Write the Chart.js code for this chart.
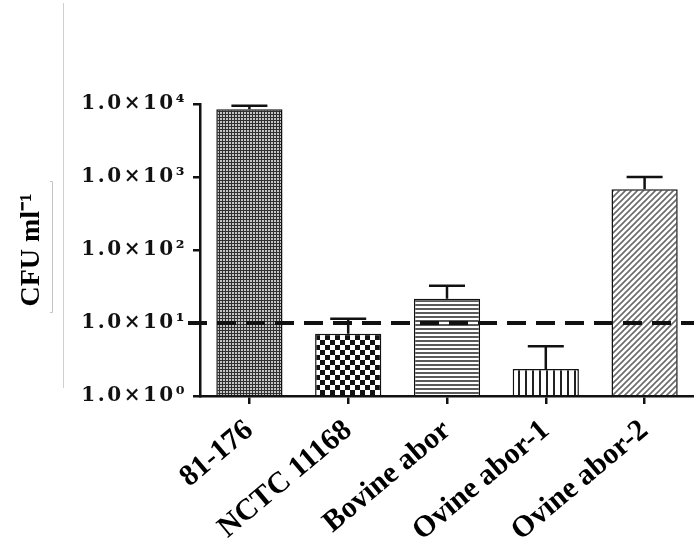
<!DOCTYPE html>
<html>
<head>
<meta charset="utf-8">
<script src="https://cdn.jsdelivr.net/npm/chart.js@4"></script>
<style>
  html, body { margin: 0; padding: 0; background: #ffffff; }
  canvas { display: block; }
</style>
</head>
<body>
<canvas id="c" width="694" height="554"></canvas>
<script>
// ---- data ----
const categories = ['81-176', 'NCTC 11168', 'Bovine abor', 'Ovine abor-1', 'Ovine abor-2'];
const cfuMeans = [8500, 7.1, 21.5, 2.35, 680];
const cfuErrUpper = [9500, 11.4, 32.5, 4.8, 1000];
const tickValues = [1, 10, 100, 1000, 10000];
const tickLabels = ['1.0×10⁰', '1.0×10¹', '1.0×10²', '1.0×10³', '1.0×10⁴'];
const detectionLimit = [10];
const yTitle = 'CFU ml⁻¹';

// ---- patterns ----
function makePattern(w, h, draw) {
  const c = document.createElement('canvas');
  c.width = w; c.height = h;
  const g = c.getContext('2d');
  draw(g, w, h);
  return document.getElementById('c').getContext('2d').createPattern(c, 'repeat');
}
const patDots = makePattern(3, 3, (g) => {
  g.fillStyle = '#303030'; g.fillRect(0, 0, 3, 3);
  g.fillStyle = '#c4c4c4'; g.fillRect(1, 1, 2, 2);
});
const patChecker = makePattern(10, 10, (g) => {
  g.fillStyle = '#ffffff'; g.fillRect(0, 0, 10, 10);
  g.fillStyle = '#111111'; g.fillRect(0, 0, 5, 5); g.fillRect(5, 5, 5, 5);
});
const patHoriz = makePattern(4, 4, (g) => {
  g.fillStyle = '#ffffff'; g.fillRect(0, 0, 4, 4);
  g.fillStyle = '#5a5a5a'; g.fillRect(0, 0, 4, 2);
});
const patVert = makePattern(7, 7, (g) => {
  g.fillStyle = '#ffffff'; g.fillRect(0, 0, 7, 7);
  g.fillStyle = '#222222'; g.fillRect(0, 0, 2, 7);
});
const patDiag = makePattern(6, 6, (g) => {
  g.fillStyle = '#ffffff'; g.fillRect(0, 0, 6, 6);
  g.strokeStyle = '#6a6a6a'; g.lineWidth = 1.6;
  g.beginPath();
  g.moveTo(-1, 7); g.lineTo(7, -1);
  g.moveTo(-4, 4); g.lineTo(4, -4);
  g.moveTo(2, 10); g.lineTo(10, 2);
  g.stroke();
});
const barPatterns = [patDots, patChecker, patHoriz, patVert, patDiag];

// ---- plugin: page marks, error bars, detection line ----
const extras = {
  id: 'extras',
  beforeDraw(chart) {
    const ctx = chart.ctx;
    ctx.letterSpacing = '0px';
    ctx.save();
    ctx.strokeStyle = '#cfcfcf';
    ctx.lineWidth = 1;
    ctx.beginPath();
    ctx.moveTo(63.5, 3); ctx.lineTo(63.5, 388);
    ctx.stroke();
    ctx.strokeStyle = '#c4c4c4';
    ctx.beginPath();
    ctx.moveTo(50, 181.5); ctx.lineTo(52.5, 181.5); ctx.lineTo(52.5, 312.5); ctx.lineTo(50, 312.5);
    ctx.stroke();
    ctx.restore();
  },
  afterDatasetsDraw(chart) {
    const ctx = chart.ctx;
    const y = chart.scales.y;
    const meta = chart.getDatasetMeta(0);
    ctx.save();
    ctx.strokeStyle = '#111111';
    ctx.lineWidth = 2.5;
    meta.data.forEach((bar, i) => {
      const cx = bar.x;
      const yTop = y.getPixelForValue(cfuMeans[i]);
      const yErr = y.getPixelForValue(cfuErrUpper[i]);
      ctx.beginPath();
      ctx.moveTo(cx, yTop); ctx.lineTo(cx, yErr);
      ctx.moveTo(cx - 18, yErr); ctx.lineTo(cx + 18, yErr);
      ctx.stroke();
    });
    // detection limit
    const yl = y.getPixelForValue(detectionLimit[0]);
    ctx.lineWidth = 4;
    ctx.setLineDash([19, 10]);
    ctx.beginPath();
    ctx.moveTo(chart.chartArea.left - 12, yl);
    ctx.lineTo(chart.width, yl);
    ctx.stroke();
    ctx.restore();
    ctx.letterSpacing = '2.5px';
  },
  afterDraw(chart) {
    chart.ctx.letterSpacing = '0px';
  }
};

new Chart(document.getElementById('c'), {
  type: 'bar',
  data: {
    labels: categories,
    datasets: [{
      data: cfuMeans,
      backgroundColor: barPatterns,
      borderColor: '#111111',
      borderWidth: 1.5,
      categoryPercentage: 1.0,
      barPercentage: 0.67
    }]
  },
  options: {
    responsive: false,
    devicePixelRatio: 1,
    animation: false,
    layout: { padding: { top: 104, right: 0, left: 0, bottom: 0 } },
    plugins: { legend: { display: false }, tooltip: { enabled: false } },
    scales: {
      x: {
        offset: true,
        afterFit(scale) { scale.height = 158; },
        grid: { display: true, drawOnChartArea: false, drawTicks: true, tickLength: 8, color: '#111111', lineWidth: 2.5, offset: false },
        border: { display: true, color: '#111111', width: 2.5, z: 1 },
        ticks: {
          color: '#000000',
          font: { family: 'Liberation Serif', weight: 'bold', size: 30 },
          minRotation: 40, maxRotation: 40,
          padding: 9,
          autoSkip: false
        }
      },
      y: {
        type: 'logarithmic',
        min: 1, max: 10000,
        afterFit(scale) { scale.width = 200; },
        afterBuildTicks(scale) { scale.ticks = tickValues.map(v => ({ value: v, major: true })); },
        grid: { display: true, drawOnChartArea: false, drawTicks: true, tickLength: 7, color: '#111111', lineWidth: 2.5 },
        border: { display: true, color: '#111111', width: 2.5 },
        ticks: {
          z: 1,
          autoSkip: false,
          color: '#111111',
          font: { family: 'DejaVu Serif', weight: 'bold', size: 20 },
          padding: 6,
          callback: (v, i) => tickLabels[i]
        },
        title: {
          display: true,
          text: yTitle,
          color: '#000000',
          font: { family: 'Liberation Serif', weight: 'bold', size: 28 },
          padding: { top: 15, bottom: 0 }
        }
      }
    }
  },
  plugins: [extras]
});
</script>
</body>
</html>
